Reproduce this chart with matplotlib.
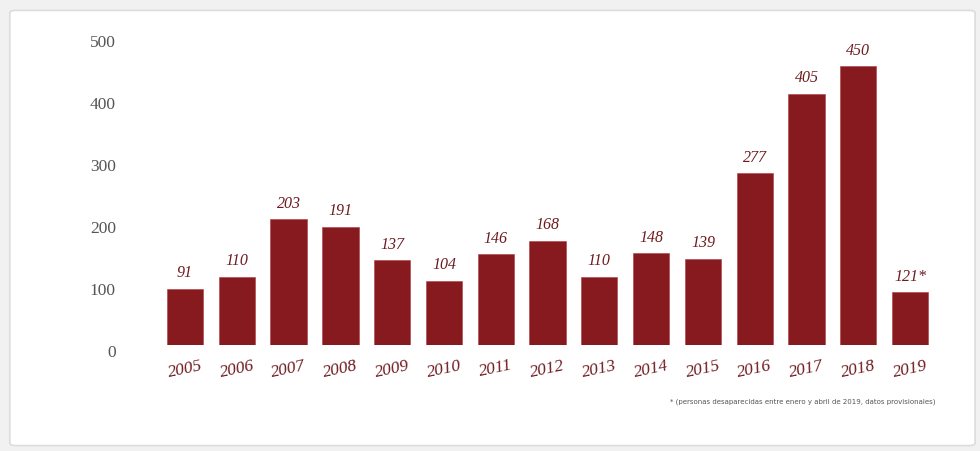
import matplotlib.pyplot as plt
import matplotlib.transforms as mtransforms
from matplotlib.patches import FancyBboxPatch

# Datos
anios = ['2005', '2006', '2007', '2008', '2009', '2010', '2011', '2012',
         '2013', '2014', '2015', '2016', '2017', '2018', '2019']
valores = [91, 110, 203, 191, 137, 104, 146, 168, 110, 148, 139, 277, 405, 450, 85]
etiquetas = ['91', '110', '203', '191', '137', '104', '146', '168',
             '110', '148', '139', '277', '405', '450', '121*']
ticks_y = [0, 100, 200, 300, 400, 500]
nota = '* (personas desaparecidas entre enero y abril de 2019, datos provisionales)'

rojo = '#861a1f'
texto_rojo = '#6e1a1f'

fig = plt.figure(figsize=(9.8, 4.51), dpi=100)
fig.patch.set_facecolor('#f1f1f1')

# Tarjeta blanca de fondo
tarjeta = FancyBboxPatch((0.010, 0.012), 0.985, 0.965,
                         boxstyle='round,pad=0,rounding_size=0.006',
                         transform=fig.transFigure, facecolor='white',
                         edgecolor='#dcdcdc', linewidth=1.2, zorder=-5)
fig.patches.append(tarjeta)

ax = fig.add_axes([120 / 980, 1 - 345 / 451, 830 / 980, 310 / 451])
ax.set_facecolor('none')
ax.set_zorder(2)

x = list(range(len(anios)))
ax.bar(x, valores, width=0.7, color=rojo, edgecolor='#b03a3f', linewidth=0.4)

for xi, v, et in zip(x, valores, etiquetas):
    ax.text(xi, v + 12, et, ha='center', va='bottom', fontsize=11.5,
            color=texto_rojo, family='Liberation Serif', style='italic',
            clip_on=False)

ax.set_xlim(-1.255, 14.77)
ax.set_ylim(0, 500)
ax.set_yticks(ticks_y)
ax.set_yticklabels([str(t) for t in ticks_y], family='Liberation Serif',
                   fontsize=12.5, color='#555555')
ax.tick_params(axis='y', length=0, pad=3)
# bajar un poco las etiquetas del eje y
desplazamiento = mtransforms.ScaledTranslation(0, -6 / 100, fig.dpi_scale_trans)
for lab in ax.get_yticklabels():
    lab.set_transform(lab.get_transform() + desplazamiento)

ax.set_xticks(x)
ax.set_xticklabels(anios, rotation=12, family='Liberation Serif',
                   style='italic', fontsize=12.5, color=texto_rojo)
ax.tick_params(axis='x', length=0, pad=9)

for s in ax.spines.values():
    s.set_visible(False)

fig.text(0.955, 1 - 402 / 451, nota, ha='right', va='center',
         fontsize=5, color='#555555', zorder=3)

plt.savefig('out.png', dpi=100, facecolor=fig.get_facecolor())
plt.close()
